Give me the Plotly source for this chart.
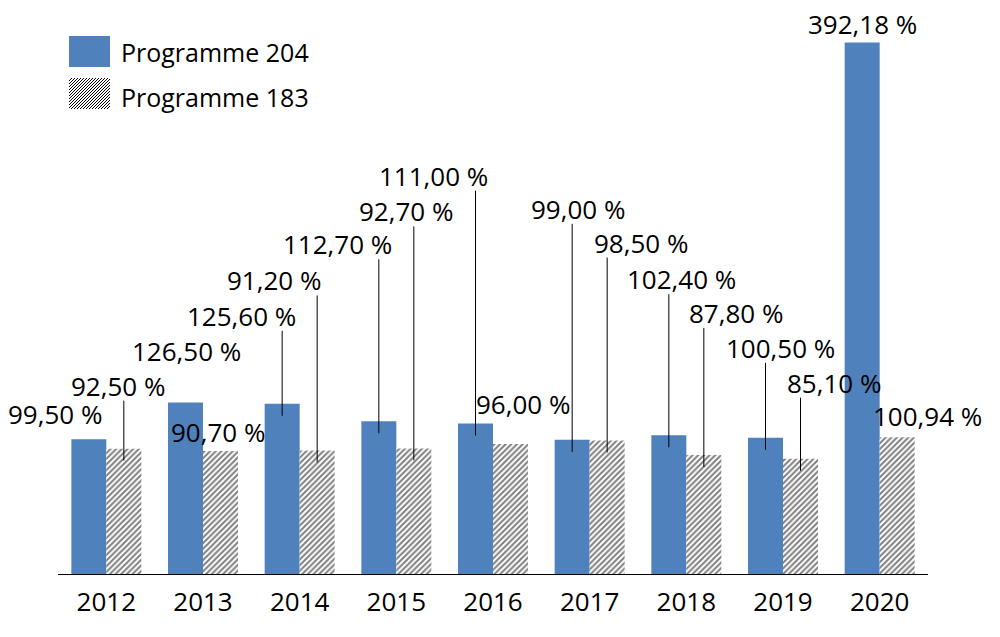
import plotly.graph_objects as go

# ---- data ----
years = ["2012", "2013", "2014", "2015", "2016", "2017", "2018", "2019", "2020"]
prog204 = [99.50, 126.50, 125.60, 112.70, 111.00, 99.00, 102.40, 100.50, 392.18]
prog183 = [92.50, 90.70, 91.20, 92.70, 96.00, 98.50, 87.80, 85.10, 100.94]
label204 = ["99,50 %", "126,50 %", "125,60 %", "112,70 %", "111,00 %", "99,00 %", "102,40 %", "100,50 %", "392,18 %"]
label183 = ["92,50 %", "90,70 %", "91,20 %", "92,70 %", "96,00 %", "98,50 %", "87,80 %", "85,10 %", "100,94 %"]

# ---- label layout (pixel offsets of label centre from bar top centre) ----
dx204 = [-34, 1, -41, -41, -42, 6, 13, 15, 0]
dy204 = [25, 52, 88, 177, 248, 231, 156, 90, 19]
lead204 = [False, False, True, True, True, True, True, True, False]
dx183 = [-6, -3, -43, -8, 12, 34, 32, 33, 30]
dy183 = [63, 19, 170, 237, 40, 198, 142, 76, 21]
lead183 = [True, False, True, True, False, True, True, True, False]

BLUE = "#4F81BD"
FONT = "Open Sans"
FS = 26
BAR_W = 0.362
x_idx = list(range(len(years)))
x204 = [i - BAR_W / 2 for i in x_idx]
x183 = [i + BAR_W / 2 for i in x_idx]

fig = go.Figure()
fig.add_trace(go.Bar(x=x204, y=prog204, width=BAR_W, name="Programme 204",
                     marker=dict(color=BLUE, line=dict(width=0)), showlegend=False))
fig.add_trace(go.Bar(x=x183, y=prog183, width=BAR_W, name="Programme 183",
                     marker=dict(color="white", line=dict(width=0),
                                 pattern=dict(shape="/", fgcolor="black", bgcolor="white",
                                              size=4, solidity=0.5)),
                     showlegend=False))

annotations = []
shapes = []
for xs, vals, labs, dxs, dys, leads in [(x204, prog204, label204, dx204, dy204, lead204),
                                        (x183, prog183, label183, dx183, dy183, lead183)]:
    for x, v, t, dx, dy, ld in zip(xs, vals, labs, dxs, dys, leads):
        annotations.append(dict(x=x, y=v, xref="x", yref="y", text=t, showarrow=False,
                                xshift=dx, yshift=dy, xanchor="center", yanchor="middle",
                                font=dict(family=FONT, size=FS, color="black")))
        if ld:
            shapes.append(dict(type="line", xref="x", yref="y", ysizemode="pixel",
                               yanchor=v, x0=x, x1=x, y0=-12, y1=dy - 15,
                               line=dict(color="black", width=1)))

# ---- manual legend ----
shapes.append(dict(type="rect", xref="paper", yref="paper", xsizemode="pixel", ysizemode="pixel",
                   xanchor=0, yanchor=1, x0=11, x1=52, y0=-4, y1=-35,
                   fillcolor=BLUE, line=dict(width=0)))
hx0, hx1, hy0, hy1 = 11, 52, -46, -77  # pixel offsets from plot top-left
segs = []
step = 3
w = hx1 - hx0
h = hy0 - hy1
k = -h
while k < w:
    xa, ya = k, 0
    xb, yb = k + h, h
    if xa < 0:
        ya = -xa
        xa = 0
    if xb > w:
        yb = h - (xb - w)
        xb = w
    if yb > ya:
        segs.append(f"M{hx0 + xa},{hy1 + ya} L{hx0 + xb},{hy1 + yb}")
    k += step
shapes.append(dict(type="path", xref="paper", yref="paper", xsizemode="pixel", ysizemode="pixel",
                   xanchor=0, yanchor=1, path=" ".join(segs),
                   line=dict(color="black", width=1)))
annotations.append(dict(x=0, y=1, xref="paper", yref="paper", xshift=61, yshift=-20,
                        xanchor="left", yanchor="middle", text="Programme 204", showarrow=False,
                        font=dict(family=FONT, size=25, color="black")))
annotations.append(dict(x=0, y=1, xref="paper", yref="paper", xshift=61, yshift=-65,
                        xanchor="left", yanchor="middle", text="Programme 183", showarrow=False,
                        font=dict(family=FONT, size=25, color="black")))

fig.update_layout(
    width=1000, height=637,
    margin=dict(l=50, r=80, t=24, b=71),
    plot_bgcolor="white", paper_bgcolor="white",
    barmode="overlay",
    showlegend=False,
    annotations=annotations,
    shapes=shapes,
    font=dict(family=FONT, size=FS, color="black"),
)
fig.update_xaxes(range=[-0.5, len(years) - 0.5], tickvals=x_idx, ticktext=years,
                 showgrid=False, zeroline=False, showline=True, linecolor="black", linewidth=1,
                 ticks="", ticklabelstandoff=5, tickfont=dict(family=FONT, size=FS, color="black"))
fig.update_yaxes(range=[0, 400], visible=False, showgrid=False, zeroline=False)

fig.write_html("out.html")
